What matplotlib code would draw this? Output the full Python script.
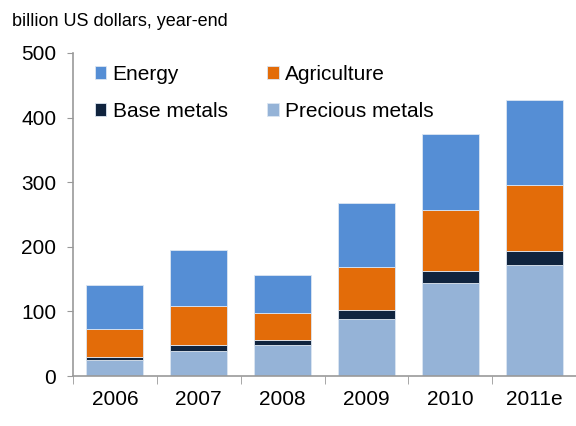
import matplotlib
matplotlib.use("Agg")
import matplotlib.pyplot as plt
import numpy as np

plt.rcParams['font.family'] = ['Liberation Sans', 'DejaVu Sans']

years = ["2006", "2007", "2008", "2009", "2010", "2011e"]
precious = [25, 38, 48, 88, 144, 172]
base = [4, 10, 7, 14, 19, 21]
agriculture = [44, 61, 42, 66, 94, 102]
energy = [68, 86, 59, 100, 117, 133]

colors = {"Energy": "#558ED5", "Agriculture": "#E36C09",
          "Base metals": "#10243E", "Precious metals": "#95B3D7"}

fig = plt.figure(figsize=(5.76, 4.26), dpi=100)
ax = fig.add_axes([73/576, 50/426, 1 - 73/576, (376-53)/426])

x = np.arange(len(years))
w = 0.68
b0 = np.zeros(len(years))
series = [("Precious metals", precious), ("Base metals", base),
          ("Agriculture", agriculture), ("Energy", energy)]
handles = {}
for name, vals in series:
    h = ax.bar(x, vals, w, bottom=b0, color=colors[name], edgecolor="#dce6f2",
               linewidth=0.6, label=name)
    handles[name] = h
    b0 = b0 + np.array(vals)

ax.set_ylim(0, 500)
ax.set_xlim(-0.5, -0.5 + (576 - 73) / 85)
ax.set_yticks([0, 100, 200, 300, 400, 500])
ax.tick_params(axis='y', labelsize=15, length=4, color="#999999", pad=8)
ax.set_xticks(x)
ax.set_xticklabels(years)
ax.tick_params(axis='x', labelsize=15, length=0, pad=10)
ax.set_xticks(np.arange(len(years) + 1) - 0.5, minor=True)
ax.tick_params(axis='x', which='minor', length=6, color="#999999")
for s in ["top", "right"]:
    ax.spines[s].set_visible(False)
for s in ["left", "bottom"]:
    ax.spines[s].set_color("#999999")
    ax.spines[s].set_linewidth(1.2)

# row-wise order: Energy, Agriculture / Base metals, Precious metals
order = ["Energy", "Base metals", "Agriculture", "Precious metals"]
leg = ax.legend([handles[n] for n in order], order, ncol=2, loc="upper left",
                bbox_to_anchor=(95/576, 1 - 65/426), bbox_transform=fig.transFigure,
                frameon=False, fontsize=15, borderpad=0, borderaxespad=0,
                handlelength=0.55, handleheight=0.55, handletextpad=0.3,
                columnspacing=1.9, labelspacing=0.85)

fig.text(12/576, 1 - 22/426, "billion US dollars, year-end", fontsize=13,
         va="center", ha="left")

fig.savefig("out.png", dpi=100)
